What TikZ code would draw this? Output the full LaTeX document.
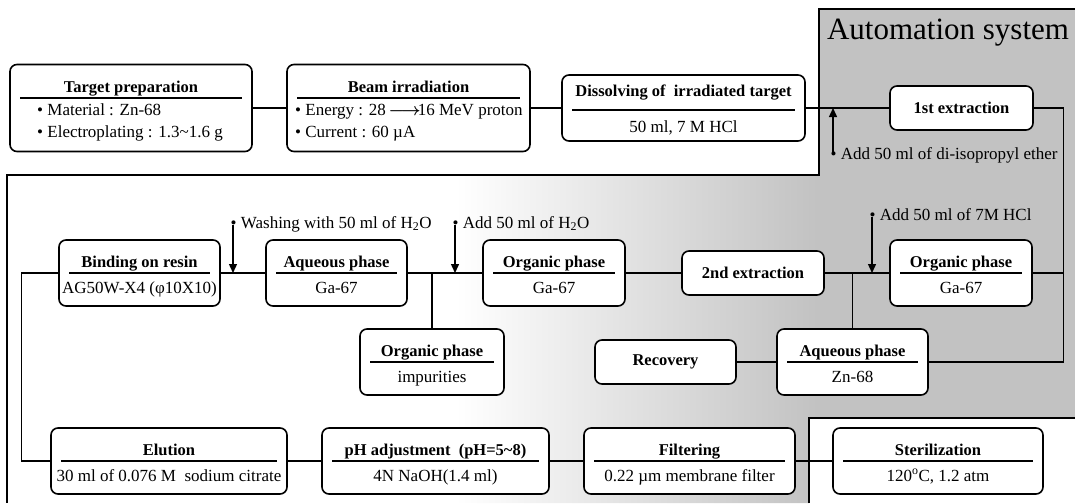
\documentclass[tikz,border=0pt]{standalone}
\usepackage{fontspec}
\setmainfont{Liberation Serif}
\usetikzlibrary{arrows.meta}
\definecolor{autogray}{gray}{0.76}
\pgfdeclarehorizontalshading{autofade}{100bp}{color(0bp)=(white); color(46bp)=(white); color(63bp)=(autogray); color(100bp)=(autogray)}
\tikzset{stage/.style={draw,rounded corners=7pt,line width=1.6pt,fill=white,inner sep=0pt},
  head/.style={font=\fontsize{16.5}{19}\selectfont\bfseries,anchor=base},
  info/.style={font=\fontsize{17}{19}\selectfont,anchor=base},
  note/.style={font=\fontsize{17}{19}\selectfont,anchor=base west,inner sep=0pt},
  feed/.style={-{Triangle[length=9pt,width=8pt]},line width=1.4pt},
  link/.style={line width=1.3pt}}

\begin{document}
\begin{tikzpicture}[x=1pt,y=-1pt]
  \path[use as bounding box] (0,0) rectangle (1075,503);
  % automation area
  \shade[shading=autofade] (819,9) -- (1075,9) -- (1075,418) -- (809,418) -- (809,503)
    -- (7,503) -- (7,175) -- (819,175) -- cycle;
  \draw[link] (1075,9) -- (819,9) -- (819,175) -- (7,175) -- (7,503);
  \draw[link] (809,503) -- (809,418) -- (1075,418);
  \node[font=\fontsize{31}{34}\selectfont] (auto) at (948,33) {Automation system};

  % top row
  \node[stage,minimum width=242,minimum height=87] (tp) at (131,108) {};
  \node[head] (tp-t) at (131,92) {Target preparation};
  \draw[link] (20,98) -- (242,98);
  \node[note] (tp-a) at (37,115) {• Material : Zn-68};
  \node[note] (tp-b) at (37,137) {• Electroplating : 1.3\textasciitilde1.6 g};
  \node[stage,minimum width=243,minimum height=87] (beam) at (408.5,108) {};
  \node[head] (beam-t) at (408.5,92) {Beam irradiation};
  \draw[link] (297,98) -- (520,98);
  \node[note] (beam-a) at (295,115) {• Energy : 28\,{\boldmath$\longrightarrow$}\!16 MeV proton};
  \node[note] (beam-b) at (295,137) {• Current : 60 µA};
  \node[stage,minimum width=243,minimum height=66] (dis) at (683.5,108) {};
  \node[head] (dis-t) at (683.5,96) {Dissolving of\ \ irradiated target};
  \draw[link] (572,110) -- (795,110);
  \node[info] (dis-c) at (683.5,132) {50 ml, 7 M HCl};

  % two part boxes
  \foreach \n/\x/\y/\w/\t/\c in {
    bind/139.5/273/161/{Binding on resin}/{AG50W-X4 (φ10X10)},
    aqga/336.5/273/141/{Aqueous phase}/{Ga-67},
    orgm/554/273/142/{Organic phase}/{Ga-67},
    orgr/961/273/142/{Organic phase}/{Ga-67},
    imp/432/362/144/{Organic phase}/{impurities},
    aqzn/852.5/362/151/{Aqueous phase}/{Zn-68},
    elu/169/461/236/{Elution}/{30 ml of 0.076 M\ \ sodium citrate},
    ph/435.5/461/227/{pH adjustment\ \ (pH=5\textasciitilde8)}/{4N NaOH(1.4 ml)},
    fil/689.5/461/211/{Filtering}/{0.22 µm membrane filter},
    ster/938/461/210/{Sterilization}/{120\textsuperscript{o}C, 1.2 atm}}{
    \node[stage,minimum width=\w,minimum height=66] (\n) at (\x,\y) {};
    \node[head] (\n-t) at (\x,\y-6) {\t};
    \draw[link] (\x-\w/2+10,\y) -- (\x+\w/2-10,\y);
    \node[info] (\n-c) at (\x,\y+20) {\c};
  }
  \foreach \n/\x/\y/\w/\t in {ext1/961.5/108/143/{1st extraction},
    ext2/753/273/142/{2nd extraction},rec/665.5/362/141/{Recovery}}{
    \node[stage,minimum width=\w,minimum height=44,font=\fontsize{16.5}{19}\selectfont\bfseries] (\n) at (\x,\y) {\t};
  }

  % connectors
  \draw[link] (tp) -- (beam);
  \draw[link] (beam) -- (dis);
  \draw[link] (dis) -- (ext1);
  \draw[link] (ext1.east) -- ++(30,0) coordinate (rail) |- (aqzn.east);
  \draw[link] (orgr.east) -- (orgr.east -| rail);
  \draw[link] (ext2) -- (orgr);
  \draw[link] (aqzn.north) -- (aqzn.north |- ext2.east);
  \draw[link] (rec) -- (aqzn);
  \draw[link] (orgm) -- (ext2);
  \draw[link] (aqga) -- (orgm);
  \draw[link] (imp.north) -- (imp.north |- aqga.east);
  \draw[link] (bind) -- (aqga);
  \draw[link] (bind.west) -- ++(-37,0) |- (elu.west);
  \draw[link] (elu) -- (ph);
  \draw[link] (ph) -- (fil);
  \draw[link] (fil) -- (ster);

  % reagents
  \coordinate (ether) at (833,108);
  \coordinate (ether-s) at (833,155);
  \draw[feed] (ether-s) -- (ether);
  \node[note] (ether-l) at (830.5,159) {• Add 50 ml of di-isopropyl ether};
  \coordinate (wash) at (233,273);
  \coordinate (wash-s) at (233,225);
  \draw[feed] (wash-s) -- (wash);
  \node[note] (wash-l) at (230.5,228) {• Washing with 50 ml of H\textsubscript{2}O};
  \coordinate (water) at (455,273);
  \coordinate (water-s) at (455,225);
  \draw[feed] (water-s) -- (water);
  \node[note] (water-l) at (452.5,228) {• Add 50 ml of H\textsubscript{2}O};
  \coordinate (acid) at (872,273);
  \coordinate (acid-s) at (872,217);
  \draw[feed] (acid-s) -- (acid);
  \node[note] (acid-l) at (869.5,220) {• Add 50 ml of 7M HCl};
\end{tikzpicture}
\end{document}
